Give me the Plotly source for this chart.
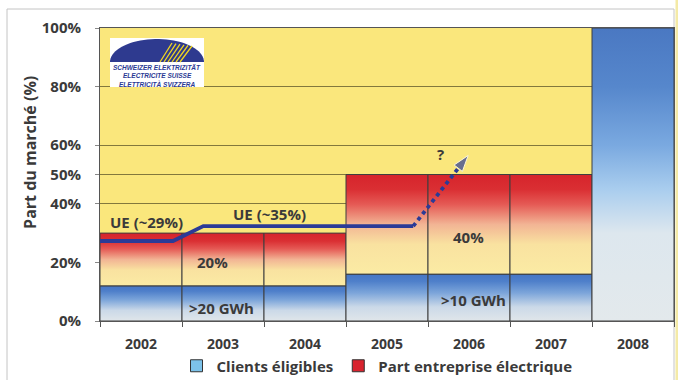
import numpy as np
import plotly.graph_objects as go

# ---------------- data ----------------
years = ["2002", "2003", "2004", "2005", "2006", "2007", "2008"]
clients_eligibles = [12, 12, 12, 16, 16, 16, 100]      # % (blue)
part_entreprise = [18, 18, 18, 34, 34, 34, 0]          # % (red, stacked)

ue_x = [-0.5, 0.39, 0.76, 3.32]                         # EU reference line
ue_y = [27.3, 27.3, 32.4, 32.4]
ue_future_x = [3.32, 3.99]
ue_future_y = [32.4, 56.5]

y_ticks = [0, 20, 40, 50, 60, 80, 100]
y_ticklabels = [f"{v}%" for v in y_ticks]

# ---------------- styles ----------------
FONT = "Open Sans"
TXT = "#3a3a3a"
BLUE_SCALE = [[0, "#e0e6ea"], [0.3, "#cbd9e8"], [0.6, "#7ca5da"], [0.85, "#4e7fca"], [1, "#4676c4"]]
RED_SCALE = [[0, "#fbeba4"], [0.3, "#f9e2a0"], [0.5, "#f2b494"], [0.7, "#e55a55"], [0.85, "#da2f33"], [1, "#d6242c"]]
FULL_SCALE = [[0, "#e3e9ec"], [0.3, "#dde7ee"], [0.45, "#a9cdee"], [0.6, "#7aa9e0"], [0.8, "#5687cc"], [1, "#4a78c2"]]
OUTLINE = "#3f3f3f"

fig = go.Figure()


def seg(i, base, top, scale):
    fig.add_trace(go.Scatter(
        x=[i - 0.5, i + 0.5, i + 0.5, i - 0.5, i - 0.5],
        y=[base, base, top, top, base],
        mode="lines", fill="toself",
        fillgradient=dict(type="vertical", colorscale=scale, start=base, stop=top),
        line=dict(color=OUTLINE, width=1),
        showlegend=False, hoverinfo="skip"))


for i, (c, p) in enumerate(zip(clients_eligibles, part_entreprise)):
    seg(i, 0, c, FULL_SCALE if c >= 100 else BLUE_SCALE)
    if p > 0:
        seg(i, c, c + p, RED_SCALE)

# EU line
fig.add_trace(go.Scatter(x=ue_x, y=ue_y, mode="lines",
                         line=dict(color="#2b3b97", width=3.8),
                         showlegend=False, hoverinfo="skip"))
fig.add_trace(go.Scatter(x=ue_future_x, y=ue_future_y, mode="lines+markers",
                         line=dict(color="#2b3b97", width=3.8, dash="dot"),
                         marker=dict(symbol="arrow", angleref="previous",
                                     size=[0, 17], color="#2b3b97"),
                         showlegend=False, hoverinfo="skip"))

# legend entries
fig.add_trace(go.Bar(x=[None], y=[None], name="Clients éligibles",
                     marker=dict(color="#7cc2ea", line=dict(color="#333", width=1))))
fig.add_trace(go.Bar(x=[None], y=[None], name="Part entreprise électrique",
                     marker=dict(color="#d8232e", line=dict(color="#333", width=1))))

bold = dict(family=FONT, size=15, color=TXT, weight=700)
labels = [
    ("UE (~29%)", 0.07, 33.8),
    ("UE (~35%)", 1.57, 36.6),
    ("20%", 0.87, 20.1),
    (">20 GWh", 0.98, 4.6),
    ("40%", 3.99, 28.7),
    (">10 GWh", 4.05, 7.2),
    ("?", 3.65, 57.0),
]
for t, x, y in labels:
    fig.add_annotation(x=x, y=y, text=t, showarrow=False, font=bold,
                       xanchor="center", yanchor="middle")

# y-axis title
fig.add_annotation(xref="paper", yref="paper", x=-0.122, y=0.577,
                   xanchor="center", yanchor="middle",
                   text="Part du marché (%)", textangle=-90, showarrow=False,
                   font=dict(family=FONT, size=16, color=TXT, weight=700))

# ---------------- logo (top-left) ----------------
PW, PH, L, B = 574.0, 293.0, 100.0, 321.0


def px(x):
    return (x - L) / PW


def py(y):
    return (B - y) / PH


shapes = []
shapes.append(dict(type="rect", xref="paper", yref="paper",
                   x0=px(110), x1=px(204), y0=py(87), y1=py(38),
                   fillcolor="white", line=dict(width=0)))
th = np.linspace(0, np.pi, 40)
cx, cy, rx, ry = 157, 62, 47, 23
pts = [(px(cx + rx * np.cos(t)), py(cy - ry * np.sin(t))) for t in th]
path = "M " + " L ".join(f"{a:.4f},{b:.4f}" for a, b in pts) + " Z"
shapes.append(dict(type="path", xref="paper", yref="paper", path=path,
                   fillcolor="#2e3a8f", line=dict(width=0)))
for k in range(6):
    shapes.append(dict(type="line", xref="paper", yref="paper",
                       x0=px(160 + 4 * k), y0=py(62), x1=px(172 + 4 * k), y1=py(43 + 0.6 * k),
                       line=dict(color="#f2d81e", width=1.3)))
# outer frame and page strip
shapes.append(dict(type="rect", xref="paper", yref="paper",
                   x0=px(7), x1=px(674), y0=py(400), y1=py(9),
                   line=dict(color="#c4c4c4", width=1), fillcolor="rgba(0,0,0,0)", layer="below"))
shapes.append(dict(type="rect", xref="paper", yref="paper",
                   x0=px(675.5), x1=px(679), y0=py(400), y1=py(-10),
                   line=dict(width=0), fillcolor="#f4eaa6", layer="below"))

logo_font = dict(family="Liberation Sans", size=6.5, color="#2b3a94", weight=700, style="italic")
for t, y in [("SCHWEIZER ELEKTRIZITÄT", 67), ("ELECTRICITE SUISSE", 75.5), ("ELETTRICITÀ SVIZZERA", 84)]:
    fig.add_annotation(xref="paper", yref="paper", x=px(157), y=py(y), text=t,
                       showarrow=False, font=logo_font, xanchor="center", yanchor="middle")

fig.update_layout(
    width=678, height=380,
    margin=dict(l=100, r=4, t=28, b=59, autoexpand=False),
    paper_bgcolor="white",
    plot_bgcolor="#fae77c",
    shapes=shapes,
    showlegend=True,
    legend=dict(orientation="h", x=px(377), xanchor="center",
                yref="container", y=1 - 366 / 380, yanchor="middle",
                font=dict(family=FONT, size=15, color=TXT, weight=700),
                bgcolor="rgba(0,0,0,0)", itemwidth=30),
    xaxis=dict(range=[-0.5, 6.5], tickmode="array", tickvals=list(range(len(years))),
               ticktext=years, ticks="", showgrid=False, zeroline=False,
               showline=True, linecolor="#555", linewidth=1, mirror=True,
               automargin=False,
               tickfont=dict(family=FONT, size=14, color=TXT, weight=700),
               ticklabelstandoff=10,
               minor=dict(tickmode="linear", tick0=0.5, dtick=1, ticks="outside",
                          ticklen=5, tickcolor="#555", showgrid=False)),
    yaxis=dict(range=[0, 100], tickmode="array", tickvals=y_ticks, ticktext=y_ticklabels,
               ticks="outside", ticklen=4, tickcolor="#888",
               showgrid=True, gridcolor="rgba(100,92,45,0.8)", gridwidth=1,
               zeroline=False, showline=True, linecolor="#555", linewidth=1, mirror=True,
               automargin=False,
               tickfont=dict(family=FONT, size=15, color=TXT, weight=700),
               ticklabelstandoff=11),
)

fig.write_html("out.html")
